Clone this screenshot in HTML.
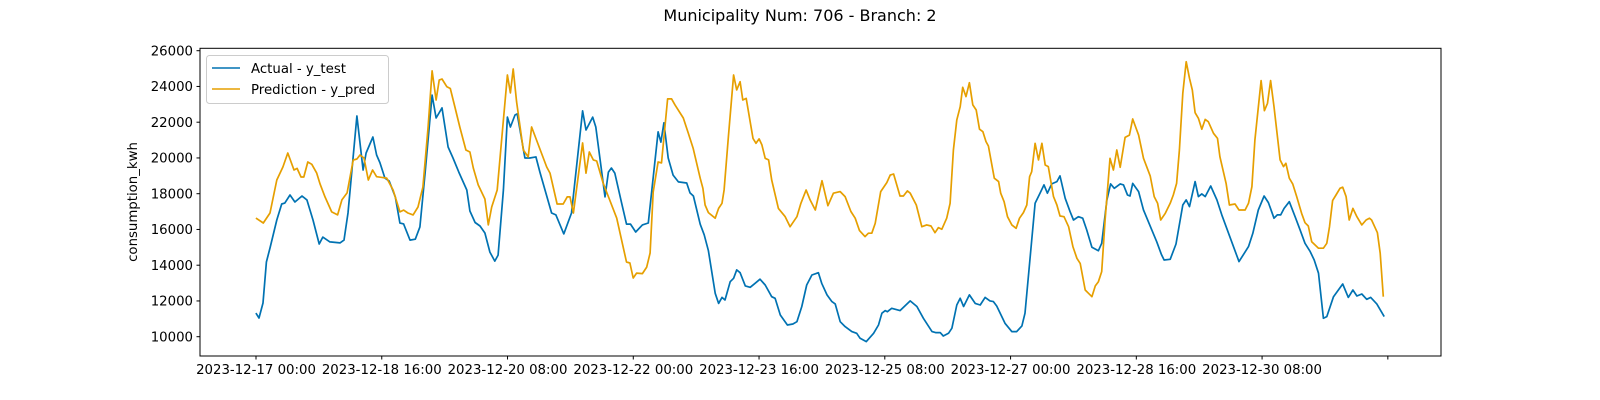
<!DOCTYPE html>
<html><head><meta charset="utf-8"><style>
html,body{margin:0;padding:0;background:#fff;}
svg{display:block;font-family:"DejaVu Sans","Liberation Sans",sans-serif;}
</style></head><body>
<svg id="chart" width="1600" height="400" viewBox="0 0 1600 400" xmlns="http://www.w3.org/2000/svg">
<rect width="1600" height="400" fill="#fff"/>
<text x="800" y="21" font-size="16" text-anchor="middle" fill="#000">Municipality Num: 706 - Branch: 2</text>
<text transform="translate(137,202) rotate(-90)" font-size="13.3" text-anchor="middle" fill="#000">consumption_kwh</text>
<g id="yticks"></g>
<g id="xticks"></g>
<g id="series"></g>
<rect x="200" y="48.3" width="1241" height="307.7" fill="none" stroke="#000" stroke-width="1"/>
<g>
<rect x="206.5" y="55.5" width="182" height="48" rx="3" fill="#fff" fill-opacity="0.8" stroke="#ccc"/>
<line x1="212" y1="68" x2="240" y2="68" stroke="#0072B2" stroke-width="1.6"/>
<text x="251" y="73" font-size="13.3" fill="#000">Actual - y_test</text>
<line x1="212" y1="89" x2="240" y2="89" stroke="#E69F00" stroke-width="1.6"/>
<text x="251" y="94" font-size="13.3" fill="#000">Prediction - y_pred</text>
</g>
</svg>
<script>
const yTickValues = [10000,12000,14000,16000,18000,20000,22000,24000,26000];
const xTickHours = [0,40,80,120,160,200,240,280,320,360];
const xTickLabels = ["2023-12-17 00:00","2023-12-18 16:00","2023-12-20 08:00","2023-12-22 00:00","2023-12-23 16:00","2023-12-25 08:00","2023-12-27 00:00","2023-12-28 16:00","2023-12-30 08:00",""];

const actualHoursRaw = [1.6,2.6,3.9,5,6.2,8.4,10,11,12.7,14.3,16.6,18.2,20.2,22.2,23.4,25.7,29,30.3,31.6,34.5,36.5,37.5,39.7,40.9,42,43.6,45,47,48.5,49.7,51.8,53.5,55,56.7,59,60.3,62.2,64.2,65.8,67.7,70.3,71.3,73,74.6,76.2,77.8,79.4,80.5,82.2,83.5,84.5,86,86.7,89.2,90.8,92.8,94.1,97.9,99.3,101.9,104.4,108,109.1,111.3,112.3,115.3,116.4,117.4,118.5,120.7,122.3,123.6,125.3,127.5,129.4,132.6,133.5,134.5,135.9,137.5,139.2,141.9,143,144.1,146.3,147.6,149,151.2,152.3,153.4,154.4,156.1,157.2,158.2,159.3,161,162.6,164.2,165.8,167.5,169.6,170.7,172.4,174.7,176.5,177.8,179.4,181,182.7,184.8,185.9,187.6,189.2,190.3,191.9,193.5,195.7,197.3,198.4,200.4,202.8,204.4,205.5,206.6,207.3,208.7,211.4,214.7,216.9,219,221.8,223,224.5,225.5,227.2,228.3,229.9,231,232.1,234,235.9,237.5,239.1,240.7,241.8,242.9,245.6,247.8,249.4,251.1,252.1,253.8,255.4,257,258.3,259.4,260.8,262.5,263.5,265.2,266.8,267.9,269.5,270.9,272.2,273.9,276,277.1,278.8,280,281.2,283.1,284.2,285.5,286.3,287.2,289.1,290.7,293.4,295,296.5,297.4,299.4,301.3,303.5,304.6,305.7,307.5,308.6,309.7,310.8,312.6,314.6,316.2,321.8,324.9,326.3,328.1,330,331.4,333.2,334.3,335.4,336.5,338.2,340.1,341.7,343.3,345,346.3,347.7,349.3,350.4,352.6,355.6,357.4,358.9,360.2,361.8,363.4,364.7,366.7,369.1];
const actualValuesRaw = [10960,10680,11530,13860,14650,16240,17150,17200,17660,17260,17600,17380,16240,14880,15270,15000,14940,15100,16640,22140,19080,20040,20950,19930,19500,18620,18450,17550,16070,16020,15100,15150,15850,18900,23330,22030,22600,20380,19760,18960,17940,16750,16100,15900,15500,14420,13910,14250,17940,22080,21520,22200,22260,19760,19760,19820,18960,16640,16530,15450,16640,22430,21350,22080,21520,17550,18960,19190,18900,17210,16010,16010,15560,15960,16070,21240,20660,21750,19760,18790,18400,18340,17780,17600,16000,15400,14500,12080,11510,11850,11700,12740,12930,13410,13250,12500,12420,12650,12880,12550,11890,11800,10850,10280,10340,10470,11330,12550,13120,13250,12650,11990,11610,11480,10470,10190,9910,9810,9530,9340,9810,10280,10950,11100,11040,11230,11100,11650,11330,10660,9910,9850,9850,9660,9810,10100,11420,11800,11330,11990,11510,11420,11850,11650,11610,11360,10380,9910,9910,10230,10950,14160,17190,17760,18230,17760,18290,18420,18740,17470,16710,16240,16430,16340,15680,14690,14500,14920,17380,18290,18040,18290,18230,17660,17600,18320,17850,16810,15680,15010,14300,13970,14010,14880,17090,17380,17000,18420,17570,17720,17570,18170,17380,16530,13880,14730,15480,16810,17600,17230,16340,16530,16530,16900,17280,16430,15680,14920,14450,13970,13220,10660,10760,11890,12610,11850,12270,11930,12040,11740,11850,11480,10760];

const predHoursRaw = [1.6,4,6.2,8.4,10.4,12,14,15,16.3,17.2,18.5,19.8,21.4,22.5,24.1,26.3,28.2,29.6,31.3,33.3,34.5,35.5,36.8,38.2,39.6,40.9,44.2,46.3,48.5,49.7,51.1,52.8,54.4,56,57.7,59,60.3,61.3,62.2,63.8,64.9,66.4,68,70,71.3,72.4,74,76.2,77.3,78.4,80.2,82.2,83.5,84.5,85.4,86.5,88.7,90.3,91.4,96.3,97.4,99.7,101.7,103,103.9,105,108,109.1,110.2,111.5,112.6,114.7,119.1,120.7,122.3,123.4,124.5,125.6,127.5,128.9,130,131,132.6,133.7,135.7,137,138.1,140.8,142.4,144,146.3,147.2,147.9,149,151.2,152.3,153.4,154.1,155.5,157.2,158.2,159.3,160.2,161.3,163.5,164.5,165.5,166.4,167.5,168.6,169.6,171.8,174,175.6,177.8,179.1,180.8,182.1,183.8,186,187.9,189.7,191.9,193.5,195.4,196.8,198.2,200,201.1,202.2,203.3,205.1,207.1,208.2,209.3,211.4,212.5,213.8,214.7,216.7,218.5,220.1,221.5,222.8,223.9,225,226.6,227.7,228.8,229.9,231,231.8,232.9,234,235.1,236.2,237.3,238.4,239.4,240.2,242.1,243.5,244.2,245.3,246.4,247.8,249.2,250.3,251.6,252.7,253.6,254.3,255.4,256.5,257.6,258.7,259.7,261.4,262.5,263.5,264.8,266.3,267.7,269,270.1,271.7,272.8,273.9,275,276,277.1,278.2,279.8,280.9,282,283.1,284.7,286.1,287.2,289.1,290.7,292.9,294.2,295.3,296.3,297.8,299.4,300.4,301.5,302.4,303.5,304.6,305.7,306.6,307.5,308.6,309.7,310.8,311.8,313.5,314.8,315.6,317.6,318.7,320.5,321.8,323.8,324.9,326,327,329,330.1,331.1,332.1,333.2,335.2,336.3,337.1,338.2,339.3,340.6,342.2,343.3,344.4,345.5,347.7,349.3,350.4,351.3,352.3,353.4,354.7,355.6,356.7,357.7,358.9,360.2,361.8,363.2,364.3,365,366.9,367.8,368.8];
const predValuesRaw = [16350,16070,16640,18510,19250,20040,19080,19170,18680,18680,19530,19400,18900,18280,17550,16700,16530,17380,17780,19640,19700,19930,19760,18510,19080,18700,18620,17940,16700,16800,16640,16530,16980,18110,21520,24700,23050,24180,24240,23800,23700,22650,21520,20210,20100,19190,18230,17430,15960,16980,17940,21920,24470,23450,24810,22940,20210,19820,21520,19250,18900,17150,17150,17550,17550,16640,20610,18900,20100,19650,19590,18340,16350,15100,13860,13800,12950,13230,13200,13570,14370,17830,19530,19480,23110,23110,22770,22030,21180,20320,18610,18040,17090,16660,16340,16900,17190,17940,20970,24470,23620,24090,23050,23140,20870,20590,20840,20500,19740,19650,18510,16900,16430,15860,16430,17190,17940,17380,16810,18470,17050,17760,17850,17570,16720,16340,15640,15300,15490,15490,16050,17850,18360,18790,18850,17600,17600,17890,17760,17090,15860,15960,15900,15520,15810,15710,16340,17190,20210,21920,22670,23770,23240,24030,22770,22480,21390,21250,20690,20440,18610,18420,17760,17280,16430,15960,15770,16340,16660,17090,18700,18980,20590,19650,20590,19360,19270,17570,17090,16470,16430,15860,14730,14070,13780,12270,12080,11890,12500,12740,13310,16240,19740,19080,20210,19230,20930,21060,21970,21060,19740,18740,17570,17190,16240,16620,17190,17660,18320,20210,23430,25220,24280,23620,22330,22010,21390,21950,21820,21160,20870,19830,18320,17090,17150,16810,16810,17190,18130,20780,24150,22440,22860,24150,22670,19650,19270,19460,18610,18290,17570,16620,16090,15900,15010,14640,14640,14920,15860,17340,17660,18040,18100,17570,16240,16900,16430,15960,16240,16340,16240,15520,14350,11890];

// reading calibration (raw picture readings -> hours / kWh)
function calHour(h){ return h*0.9765 - 1.59; }
function calValue(v){ return v*0.98594 + 516.6; }

function xScale(h){ return 256 + 3.144*h; }
function yScale(v){ return 50.7 + (26000 - v)*0.017875; }

const NS = "http://www.w3.org/2000/svg";
const yt = document.getElementById('yticks');
yTickValues.forEach(v=>{
  const y = yScale(v);
  const l = document.createElementNS(NS,'line');
  l.setAttribute('x1',196.5); l.setAttribute('x2',200); l.setAttribute('y1',y); l.setAttribute('y2',y);
  l.setAttribute('stroke','#000');
  
  
  yt.appendChild(l);
  const t = document.createElementNS(NS,'text');
  t.setAttribute('x',193); t.setAttribute('y',y+4.7); t.setAttribute('text-anchor','end'); t.setAttribute('font-size','13.3');
  t.textContent = v;
  
  
  yt.appendChild(t);
});
const xt = document.getElementById('xticks');
xTickHours.forEach((h,i)=>{
  const x = xScale(h);
  const l = document.createElementNS(NS,'line');
  l.setAttribute('x1',x); l.setAttribute('x2',x); l.setAttribute('y1',356); l.setAttribute('y2',359.5);
  l.setAttribute('stroke','#000');
  
  
  xt.appendChild(l);
  const t = document.createElementNS(NS,'text');
  t.setAttribute('x',x); t.setAttribute('y',374); t.setAttribute('text-anchor','middle'); t.setAttribute('font-size','13.3');
  t.textContent = xTickLabels[i];
  
  
  xt.appendChild(t);
});
function drawSeries(hours, vals, color, name){
  const pts = hours.map((h,i)=> xScale(calHour(h)).toFixed(1)+','+yScale(calValue(vals[i])).toFixed(1)).join(' ');
  const p = document.createElementNS(NS,'polyline');
  p.setAttribute('points',pts); p.setAttribute('fill','none'); p.setAttribute('stroke',color);
  p.setAttribute('stroke-width','1.7'); p.setAttribute('stroke-linejoin','round');
  
  
  document.getElementById('series').appendChild(p);
}
drawSeries(actualHoursRaw, actualValuesRaw, '#0072B2', 'actual-line');
drawSeries(predHoursRaw, predValuesRaw, '#E69F00', 'prediction-line');
</script>
</body></html>
